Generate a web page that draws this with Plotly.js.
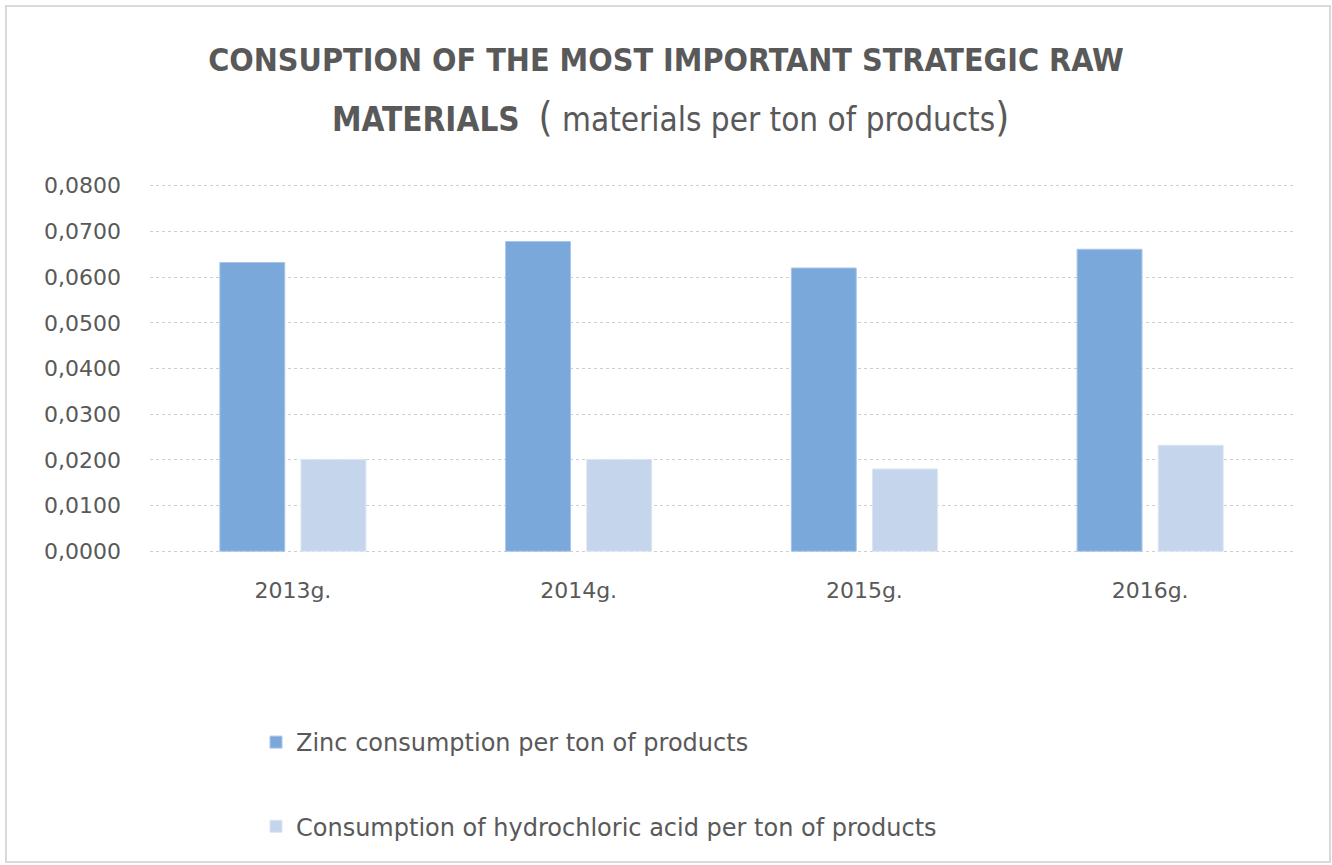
<!DOCTYPE html>
<html>
<head>
<meta charset="utf-8">
<script src="https://cdn.plot.ly/plotly-3.0.1.min.js"></script>
<style>
  html, body { margin: 0; padding: 0; background: #ffffff; }
  #chart { width: 1332px; height: 865px; }
</style>
</head>
<body>
<div id="chart"></div>
<script>
// ---- data ----
const categories = ["2013g.", "2014g.", "2015g.", "2016g."];
const zincValues = [0.0632, 0.0678, 0.0620, 0.0661];
const hclValues = [0.0201, 0.0201, 0.0180, 0.0232];
const seriesNames = [
  "Zinc consumption per ton of products",
  "Consumption of hydrochloric acid per ton of products"
];
const yTickValues = [0, 0.01, 0.02, 0.03, 0.04, 0.05, 0.06, 0.07, 0.08];
const titleLine1 = "CONSUPTION OF THE MOST IMPORTANT STRATEGIC RAW";
const titleLine2Bold = "MATERIALS";
const titleLine2Rest = "materials per ton of products";

// ---- layout helpers ----
const W = 1332, H = 865;
const yMin = -0.0006, yMax = 0.0806;
const pxZero = 551, pxTop = 186;            // pixel rows of 0 and 0.08
const pxPerUnit = (pxZero - pxTop) / 0.08;
const M = {
  l: 150,
  r: 39,
  t: Math.round(pxTop - (yMax - 0.08) * pxPerUnit),
  b: Math.round(H - (pxZero + (0 - yMin) * pxPerUnit))
};
const plotW = W - M.l - M.r, plotH = H - M.t - M.b;
const px2paperX = px => (px - M.l) / plotW;
const py2paperY = py => (H - M.b - py) / plotH;

const textColor = "#595959";
const narrow = "'Liberation Sans Narrow', 'DejaVu Sans Condensed', 'Arial Narrow', sans-serif";
const wide = "'DejaVu Sans', Verdana, sans-serif";

const traces = [
  {
    type: "bar",
    name: seriesNames[0],
    x: categories,
    y: zincValues,
    legendgroup: "g1",
    marker: { color: "#7BA8DA", line: { color: "#A9C6EA", width: 1 } },
    hoverinfo: "x+y"
  },
  {
    type: "bar",
    name: seriesNames[1],
    x: categories,
    y: hclValues,
    legendgroup: "g2",
    marker: { color: "#C5D5EB", line: { color: "#DCE6F3", width: 1 } },
    hoverinfo: "x+y"
  }
];

const layout = {
  width: W,
  height: H,
  margin: M,
  paper_bgcolor: "#ffffff",
  plot_bgcolor: "#ffffff",
  separators: ",.",
  barmode: "group",
  bargap: 0.432,
  bargroupgap: 0.2,
  title: {
    text: "<b>" + titleLine1 + "</b>",
    font: { family: narrow, size: 32, color: textColor },
    xref: "container",
    x: 0.5,
    xanchor: "center",
    yref: "container",
    y: 1 - 60 / H,
    yanchor: "middle"
  },
  annotations: [
    {
      text: "<b>" + titleLine2Bold + "</b>  <span style='font-size:40px'>(</span> " + titleLine2Rest + "<span style='font-size:40px'>)</span>",
      xref: "paper",
      yref: "paper",
      x: px2paperX(670),
      y: py2paperY(117),
      xanchor: "center",
      yanchor: "middle",
      showarrow: false,
      font: { family: narrow, size: 33, color: textColor }
    }
  ],
  xaxis: {
    type: "category",
    showgrid: false,
    showline: false,
    zeroline: false,
    ticks: "",
    tickfont: { family: wide, size: 22, color: textColor },
    ticklabelstandoff: 21
  },
  yaxis: {
    range: [yMin, yMax],
    tickvals: yTickValues,
    tickformat: ".4f",
    showgrid: true,
    gridcolor: "#cfcfcf",
    gridwidth: 1,
    griddash: "dot",
    zeroline: false,
    showline: false,
    ticks: "",
    tickfont: { family: wide, size: 22, color: textColor },
    ticklabelstandoff: 28
  },
  showlegend: true,
  legend: {
    orientation: "v",
    traceorder: "grouped",
    tracegroupgap: 50,
    x: px2paperX(256),
    xanchor: "left",
    y: py2paperY(720),
    yanchor: "top",
    font: { family: wide, size: 24, color: textColor },
    bgcolor: "rgba(0,0,0,0)"
  },
  shapes: [
    {
      type: "rect",
      xref: "paper",
      yref: "paper",
      x0: px2paperX(6),
      x1: px2paperX(1330),
      y0: py2paperY(862),
      y1: py2paperY(6),
      line: { color: "#d9d9d9", width: 2 },
      fillcolor: "rgba(0,0,0,0)",
      layer: "below"
    }
  ]
};

Plotly.newPlot("chart", traces, layout, { displayModeBar: false, responsive: false });
</script>
</body>
</html>
